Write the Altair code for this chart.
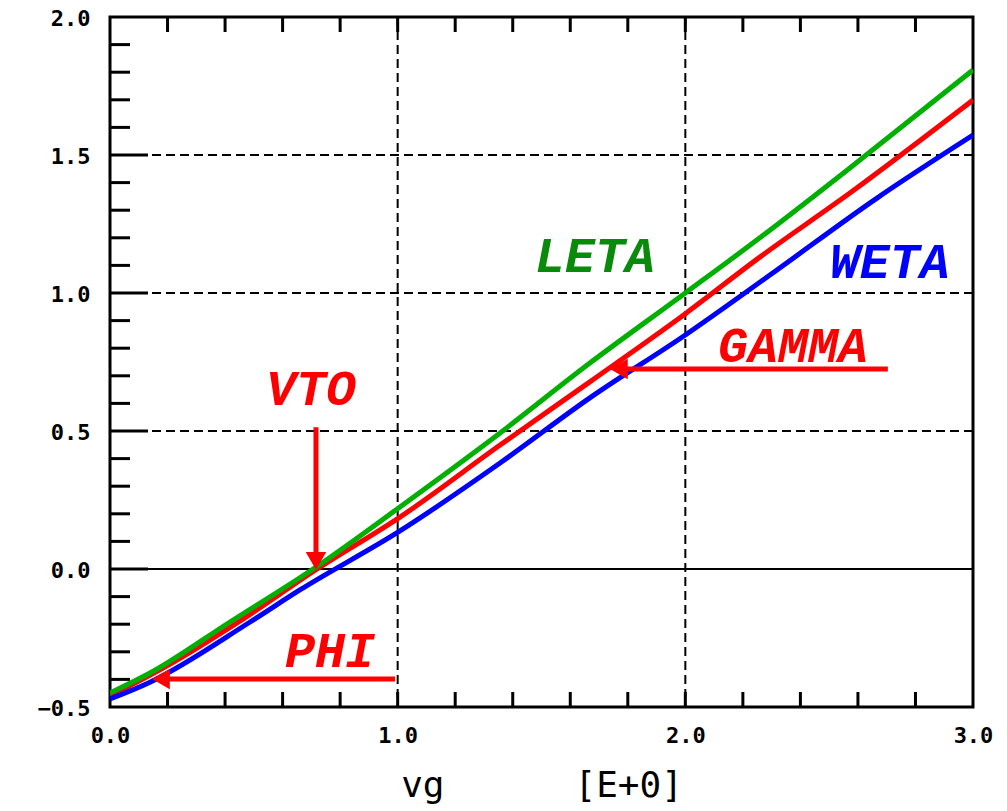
import altair as alt
import pandas as pd

# ---- curve data ----
leta_x = [0.0, 0.139, 0.417, 0.706, 1.008, 1.356, 1.668, 2.0, 2.259, 2.572, 3.0]
leta_y = [-0.449, -0.377, -0.192, 0.0, 0.225, 0.493, 0.746, 1.0, 1.2, 1.453, 1.808]

gamma_x = [0.0, 0.2, 0.45, 0.72, 1.008, 1.356, 1.668, 2.0, 2.259, 2.572, 3.0]
gamma_y = [-0.46, -0.35, -0.19, 0.0, 0.188, 0.449, 0.678, 0.925, 1.13, 1.362, 1.699]

weta_x = [0.0, 0.139, 0.487, 0.66, 1.008, 1.356, 1.668, 2.0, 2.294, 2.665, 3.0]
weta_y = [-0.471, -0.41, -0.192, -0.076, 0.138, 0.384, 0.62, 0.848, 1.065, 1.343, 1.572]

# ---- axes / grid ----
x_labels = [0.0, 1.0, 2.0, 3.0]
y_labels = [-0.5, 0.0, 0.5, 1.0, 1.5, 2.0]
x_grid = [1.0, 2.0]
y_grid = [0.5, 1.0, 1.5]
y_zero = [0.0]
y_minor_ticks = [-0.4, -0.3, -0.2, -0.1, 0.1, 0.2, 0.3, 0.4, 0.6, 0.7, 0.8, 0.9,
                 1.1, 1.2, 1.3, 1.4, 1.6, 1.7, 1.8, 1.9]
y_major_ticks = [0.0, 0.5, 1.0, 1.5]
x_ticks = [0.2, 0.4, 0.6, 0.8, 1.0, 1.2, 1.4, 1.6, 1.8, 2.0, 2.2, 2.4, 2.6, 2.8]

# ---- annotations ----
ann_text = ["LETA", "WETA", "GAMMA", "VTO", "PHI"]
ann_x = [1.686, 2.711, 2.374, 0.699, 0.765]
ann_y = [1.13, 1.109, 0.804, 0.649, -0.301]
ann_color = ["#0a8a0a", "#0000ff", "#ff0000", "#ff0000", "#ff0000"]

# arrows: horizontal (PHI, GAMMA) and vertical (VTO)
harrow_y = [-0.399, 0.725]
harrow_x_from = [0.991, 2.704]
harrow_x_to = [0.2, 1.79]
harrow_head_x = [0.177, 1.769]
varrow_x = [0.716]
varrow_y_from = [0.514]
varrow_y_to = [0.05]
varrow_head_y = [0.029]

W, H = 863, 690
xs = alt.Scale(domain=[0, 3], nice=False, zero=False)
ys = alt.Scale(domain=[-0.5, 2.0], nice=False, zero=False)

MONO = "DejaVu Sans Mono"
NBSP = "\u00a0"

def series(xv, yv):
    return pd.DataFrame({"x": xv, "y": yv})

# base with axes
base_axes = alt.Chart(pd.DataFrame({"x": [0.0], "y": [0.0]})).mark_point(opacity=0).encode(
    x=alt.X("x:Q", scale=xs,
            axis=alt.Axis(values=x_labels, labelExpr="format(datum.value, '.1f')",
                          ticks=False, domain=False, grid=False, labelFlush=False,
                          labelFont=MONO, labelFontWeight="bold", labelFontSize=22,
                          labelColor="black", labelPadding=18,
                          title="vg" + NBSP * 6 + "[E+0]", titleFont=MONO,
                          titleFontSize=36, titleFontWeight="normal", titleColor="black",
                          titlePadding=22)),
    y=alt.Y("y:Q", scale=ys,
            axis=alt.Axis(values=y_labels, labelExpr="format(datum.value, '.1f')",
                          ticks=False, domain=False, grid=False, labelFlush=False,
                          labelFont=MONO, labelFontWeight="bold", labelFontSize=22,
                          labelBaseline="alphabetic", labelOffset=8,
                          labelColor="black", labelPadding=20, title=None)),
)

grid_x = alt.Chart(pd.DataFrame({"x": x_grid})).mark_rule(
    color="black", strokeWidth=2, strokeDash=[9, 5]).encode(x=alt.X("x:Q", scale=xs))
grid_y = alt.Chart(pd.DataFrame({"y": y_grid})).mark_rule(
    color="black", strokeWidth=2, strokeDash=[9, 5]).encode(y=alt.Y("y:Q", scale=ys))
zero_line = alt.Chart(pd.DataFrame({"y": y_zero})).mark_rule(
    color="black", strokeWidth=2).encode(y=alt.Y("y:Q", scale=ys))

minor_t = alt.Chart(pd.DataFrame({"y": y_minor_ticks})).mark_rule(
    color="black", strokeWidth=3).encode(
    y=alt.Y("y:Q", scale=ys), x=alt.value(0), x2=alt.value(20))
major_t = alt.Chart(pd.DataFrame({"y": y_major_ticks})).mark_rule(
    color="black", strokeWidth=3).encode(
    y=alt.Y("y:Q", scale=ys), x=alt.value(0), x2=alt.value(38))
bot_t = alt.Chart(pd.DataFrame({"x": x_ticks})).mark_rule(
    color="black", strokeWidth=3).encode(
    x=alt.X("x:Q", scale=xs), y=alt.value(H), y2=alt.value(H - 15))
top_t = alt.Chart(pd.DataFrame({"x": x_ticks})).mark_rule(
    color="black", strokeWidth=3).encode(
    x=alt.X("x:Q", scale=xs), y=alt.value(0), y2=alt.value(15))

def curve(xv, yv, color):
    return alt.Chart(series(xv, yv)).mark_line(
        color=color, strokeWidth=5, clip=True, interpolate="monotone").encode(
        x=alt.X("x:Q", scale=xs), y=alt.Y("y:Q", scale=ys), order="x:Q")

red_line = curve(gamma_x, gamma_y, "#ff0000")
blue_line = curve(weta_x, weta_y, "#0000ff")
green_line = curve(leta_x, leta_y, "#00b000")

harrow = alt.Chart(pd.DataFrame({"y": harrow_y, "x": harrow_x_from, "x2": harrow_x_to})).mark_rule(
    color="#ff0000", strokeWidth=5).encode(
    x=alt.X("x:Q", scale=xs), x2="x2:Q", y=alt.Y("y:Q", scale=ys))
harrow_head = alt.Chart(pd.DataFrame({"y": harrow_y, "x": harrow_head_x})).mark_point(
    shape="triangle-left", size=420, filled=True, color="#ff0000", opacity=1).encode(
    x=alt.X("x:Q", scale=xs), y=alt.Y("y:Q", scale=ys))
varrow = alt.Chart(pd.DataFrame({"x": varrow_x, "y": varrow_y_from, "y2": varrow_y_to})).mark_rule(
    color="#ff0000", strokeWidth=5).encode(
    x=alt.X("x:Q", scale=xs), y=alt.Y("y:Q", scale=ys), y2="y2:Q")
varrow_head = alt.Chart(pd.DataFrame({"x": varrow_x, "y": varrow_head_y})).mark_point(
    shape="triangle-down", size=420, filled=True, color="#ff0000", opacity=1).encode(
    x=alt.X("x:Q", scale=xs), y=alt.Y("y:Q", scale=ys))

ann = alt.Chart(pd.DataFrame({"t": ann_text, "x": ann_x, "y": ann_y, "c": ann_color})).mark_text(
    font="Liberation Mono", fontSize=50, fontWeight="bold", fontStyle="italic",
    align="center", baseline="middle").encode(
    x=alt.X("x:Q", scale=xs), y=alt.Y("y:Q", scale=ys), text="t:N",
    color=alt.Color("c:N", scale=None))

chart = alt.layer(
    base_axes, grid_x, grid_y, zero_line, minor_t, major_t, bot_t, top_t,
    red_line, blue_line, green_line, harrow, harrow_head, varrow, varrow_head, ann
).properties(
    width=W, height=H, autosize="none", background="white",
    padding={"left": 102, "top": 9, "right": 24, "bottom": 100},
).configure_view(
    stroke="black", strokeWidth=3
)

chart.save("out.html", embed_options={"renderer": "svg", "actions": False})
